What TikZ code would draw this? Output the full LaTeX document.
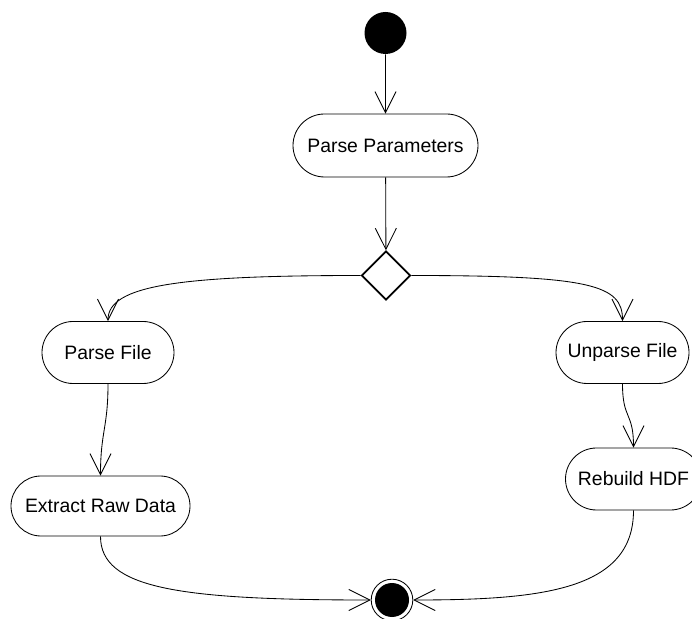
\documentclass[tikz,border=0pt]{standalone}
\usepackage{fontspec}
\setmainfont{Liberation Sans}
\usepackage{tikz}
\usetikzlibrary{arrows.meta,shapes.misc,shapes.geometric}

\begin{document}
\begin{tikzpicture}[scale=1.0, line width=0.6pt,
    >={Straight Barb[length=15pt,width=15pt]},
    activity/.style={draw, rounded rectangle, minimum height=1.55cm,
        inner sep=0pt, font=\fontsize{13.8}{16}\selectfont},
    branch/.style={draw, diamond, line width=1.2pt, minimum width=1.225cm, minimum height=1.225cm, inner sep=0pt},
    initial/.style={circle, fill=black, minimum size=1.05cm, inner sep=0pt}
  ]

    %% Background
    \useasboundingbox (0,0) rectangle (17.3,15.45);

    % Start and first action
    \node[initial] (start) at (9.6375,14.625) {};
    \node[activity, minimum width=4.625cm, minimum height=1.575cm] (params) at (9.6375,11.8125) {Parse Parameters};
    \node[branch] (choice) at (9.65,8.5625) {};

    % Two branches
    \node[activity, minimum width=3.3cm] (parsefile) at (2.7,6.6375) {Parse File};
    \node[activity, minimum width=3.325cm] (unparse) at (15.5625,6.6375) {Unparse File};
    \node[activity, minimum width=4.475cm, minimum height=1.5cm] (extract) at (2.5125,2.8) {Extract Raw Data};
    \node[activity, minimum width=3.4cm] (rebuild) at (15.8375,3.475) {Rebuild HDF};

    % End
    \node[circle, draw, minimum size=1.04cm, inner sep=0pt] (final) at (9.8,0.45) {};
    \fill (final) circle (0.425);

    % Flow
    \draw[->] (start) -- (params);
    \draw[->] (params) -- (choice);
    \draw[->] (choice.west) .. controls +(-4.5,0) and +(0,0.9) .. (parsefile.north);
    \draw[->] (choice.east) .. controls +(4.5,0) and +(0,0.9) .. (unparse.north);
    \draw[->] (parsefile.south) .. controls +(0,-1.1) and +(0,1.1) .. (extract.north);
    \draw[->] (unparse.south) .. controls +(0,-0.9) and +(0,0.9) .. (rebuild.north);
    \draw[->] (extract.south) .. controls +(0,-1.3) and +(-4.8,0) .. (final.west);
    \draw[->] (rebuild.south) .. controls +(0,-2.0) and +(3.2,0) .. (final.east);

\end{tikzpicture}
\end{document}
